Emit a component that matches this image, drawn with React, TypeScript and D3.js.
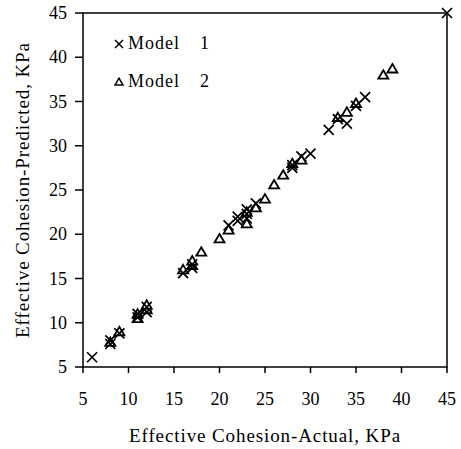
import React from "react";
import * as d3 from "d3";

const xTicks = [5, 10, 15, 20, 25, 30, 35, 40, 45];
const yTicks = [5, 10, 15, 20, 25, 30, 35, 40, 45];

const model1Actual = [6, 8, 8, 9, 11, 11, 12, 12, 16, 17, 17, 21, 22, 22, 23, 23, 23, 24, 28, 28, 29, 30, 32, 33, 34, 35, 36, 45];
const model1Pred = [6.1, 7.6, 8, 8.8, 10.6, 11, 11.2, 11.8, 15.6, 16.2, 16.6, 21, 21.5, 22, 21.8, 22.8, 22.3, 23.5, 27.5, 27.8, 28.8, 29.1, 31.8, 33, 32.5, 34.5, 35.5, 45];

const model2Actual = [8, 9, 11, 11, 12, 12, 16, 17, 17, 18, 20, 21, 23, 23, 24, 25, 26, 27, 28, 29, 33, 34, 35, 38, 39];
const model2Pred = [7.8, 9, 10.5, 11, 11.5, 12, 16, 16.5, 17, 18, 19.5, 20.5, 21.2, 22.5, 23, 24, 25.6, 26.7, 28, 28.4, 33.2, 33.8, 34.8, 38, 38.7];

const seriesNames = ["Model", "Model"];
const seriesNums = ["1", "2"];
const xTitle = "Effective Cohesion-Actual, KPa";
const yTitle = "Effective Cohesion-Predicted, KPa";

const FONT = "'Liberation Serif', 'Times New Roman', serif";

export default function App() {
  const W = 461, H = 449;
  const L = 83, R = 447, T = 13, B = 367;
  const x = d3.scaleLinear().domain([5, 45]).range([L, R]);
  const y = d3.scaleLinear().domain([5, 45]).range([B, T]);

  const cross = (cx: number, cy: number, r: number, key: string, sw = 1.7) => (
    <path key={key} d={`M${cx - r},${cy - r}L${cx + r},${cy + r}M${cx - r},${cy + r}L${cx + r},${cy - r}`} stroke="#000" strokeWidth={sw} fill="none" />
  );
  const tri = (cx: number, cy: number, s: number, key: string, sw = 1.8) => (
    <path key={key} d={`M${cx},${cy - s * 0.95}L${cx + s},${cy + s * 0.75}L${cx - s},${cy + s * 0.75}Z`} stroke="#000" strokeWidth={sw} fill="#fff" />
  );

  const m1 = model1Actual.map((a, i) => [a, model1Pred[i]]);
  const m2 = model2Actual.map((a, i) => [a, model2Pred[i]]);

  return (
    <svg width={W} height={H} style={{ position: "absolute", left: 0, top: 0, background: "#fff" }}>
      <rect x={0} y={0} width={W} height={H} fill="#fff" />
      <rect x={L} y={T} width={R - L} height={B - T} fill="none" stroke="#000" strokeWidth={1.5} />
      {xTicks.map((t) => (
        <g key={"xt" + t}>
          <line x1={x(t)} x2={x(t)} y1={B} y2={B + 6} stroke="#000" strokeWidth={1.5} />
          <text x={x(t)} y={405} textAnchor="middle" fontFamily={FONT} fontSize={18} fill="#000">{t}</text>
        </g>
      ))}
      {yTicks.map((t) => (
        <g key={"yt" + t}>
          <line x1={L - 8} x2={L} y1={y(t)} y2={y(t)} stroke="#000" strokeWidth={1.5} />
          <text x={67} y={y(t) + 6} textAnchor="end" fontFamily={FONT} fontSize={18} fill="#000">{t}</text>
        </g>
      ))}
      {m2.map((d, i) => tri(x(d[0]), y(d[1]), 5, "m2" + i))}
      {m1.map((d, i) => cross(x(d[0]), y(d[1]), 5, "m1" + i))}
      {cross(119, 44, 4, "lg1", 1.5)}
      <text x={128} y={49} fontFamily={FONT} fontSize={18} letterSpacing={1} fill="#000">{seriesNames[0]}</text>
      <text x={200} y={49} fontFamily={FONT} fontSize={18} fill="#000">{seriesNums[0]}</text>
      {tri(119, 82, 4, "lg2", 1.5)}
      <text x={128} y={87} fontFamily={FONT} fontSize={18} letterSpacing={1} fill="#000">{seriesNames[1]}</text>
      <text x={200} y={87} fontFamily={FONT} fontSize={18} fill="#000">{seriesNums[1]}</text>
      <text x={(L + R) / 2} y={442} textAnchor="middle" fontFamily={FONT} fontSize={19} letterSpacing={0.9} fill="#000">{xTitle}</text>
      <text transform={`translate(29,${(T + B) / 2}) rotate(-90)`} textAnchor="middle" fontFamily={FONT} fontSize={19} letterSpacing={0.9} fill="#000">{yTitle}</text>
    </svg>
  );
}
